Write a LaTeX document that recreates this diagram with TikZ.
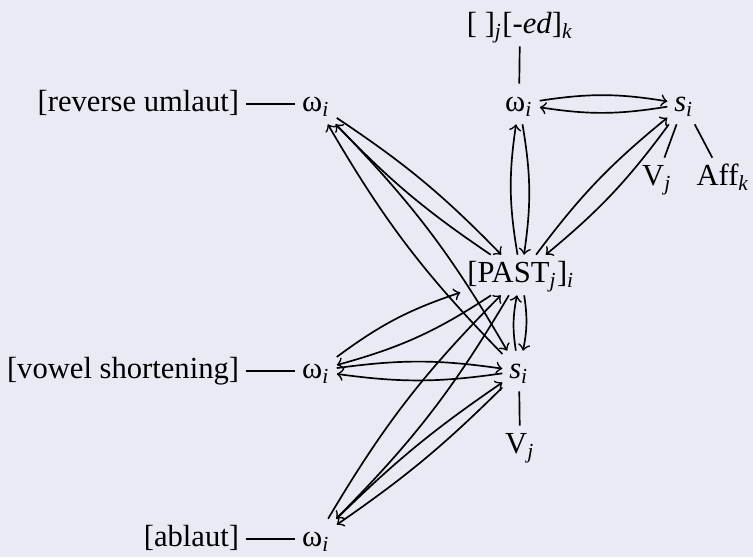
\documentclass[tikz,border=0pt]{standalone}
\usepackage{fontspec}
\setmainfont{Liberation Serif}

\definecolor{slidebg}{RGB}{234,234,245}
\newcommand{\idx}[1]{\textsubscript{\itshape #1}}
\tikzset{word/.style={inner sep=2pt,text height=1.5ex,text depth=0.4ex}}

\begin{document}
\begin{tikzpicture}[x=0.3268pt,y=-0.3268pt,line width=0.55pt,every node/.style={word}]
            \fill[slidebg] (0,0) rectangle (753,557);
            \useasboundingbox (0,0) rectangle (753,557);

            \node (ed) at (520,26) {[\ ]\idx{j}[-\textit{ed}]\idx{k}};
            \node (om1) at (316,104) {ω\idx{i}};
            \node (om2) at (519,104) {ω\idx{i}};
            \node (s1) at (684,104) {\textit{s}\idx{i}};
            \node (v1) at (657,178) {V\idx{j}};
            \node (aff) at (723,178) {Aff\idx{k}};
            \node (past) at (521,275) {[PAST\idx{j}]\idx{i}};
            \node (om3) at (316,371) {ω\idx{i}};
            \node (s2) at (519,371) {\textit{s}\idx{i}};
            \node (v2) at (520,446) {V\idx{j}};
            \node (om4) at (316,539) {ω\idx{i}};
            \node[anchor=east] (revuml) at (246,104) {[reverse umlaut]};
            \node[anchor=east] (vshort) at (246,371) {[vowel shortening]};
            \node[anchor=east] (ablaut) at (246,539) {[ablaut]};

            \draw (revuml) -- (om1);
            \draw (vshort) -- (om3);
            \draw (ablaut) -- (om4);
            \draw (ed) -- (om2);
            \draw (s1) -- (v1);
            \draw (s1) -- (aff);
            \draw (s2) -- (v2);

            \draw[->] (om2) to[bend left=9] (s1);
            \draw[->] (s1) to[bend left=9] (om2);
            \draw[->] (om2) to[bend left=9] (past);
            \draw[->] (past) to[bend left=9] (om2);
            \draw[->] (s1) to[bend left=7] (past);
            \draw[->] (past) to[bend left=7] (s1);
            \draw[->] (past) to[bend left=10] (s2);
            \draw[->] (s2) to[bend left=10] (past);

            \draw[->] (om1) to[bend left=6] (past);
            \draw[->] (past) to[bend left=6] (om1);
            \draw[->] (om1) to[bend left=7] (s2);
            \draw[->] (s2) to[bend left=7] (om1);

            \draw[->] (om3) to[bend left=9] (past);
            \draw[->] (past) to[bend left=9] (om3);
            \draw[->] (om3) to[bend left=8] (s2);
            \draw[->] (s2) to[bend left=8] (om3);

            \draw[->] (om4) to[bend left=7] (past);
            \draw[->] (past) to[bend left=7] (om4);
            \draw[->] (om4) to[bend left=5] (s2);
            \draw[->] (s2) to[bend left=5] (om4);
        \end{tikzpicture}
\end{document}
